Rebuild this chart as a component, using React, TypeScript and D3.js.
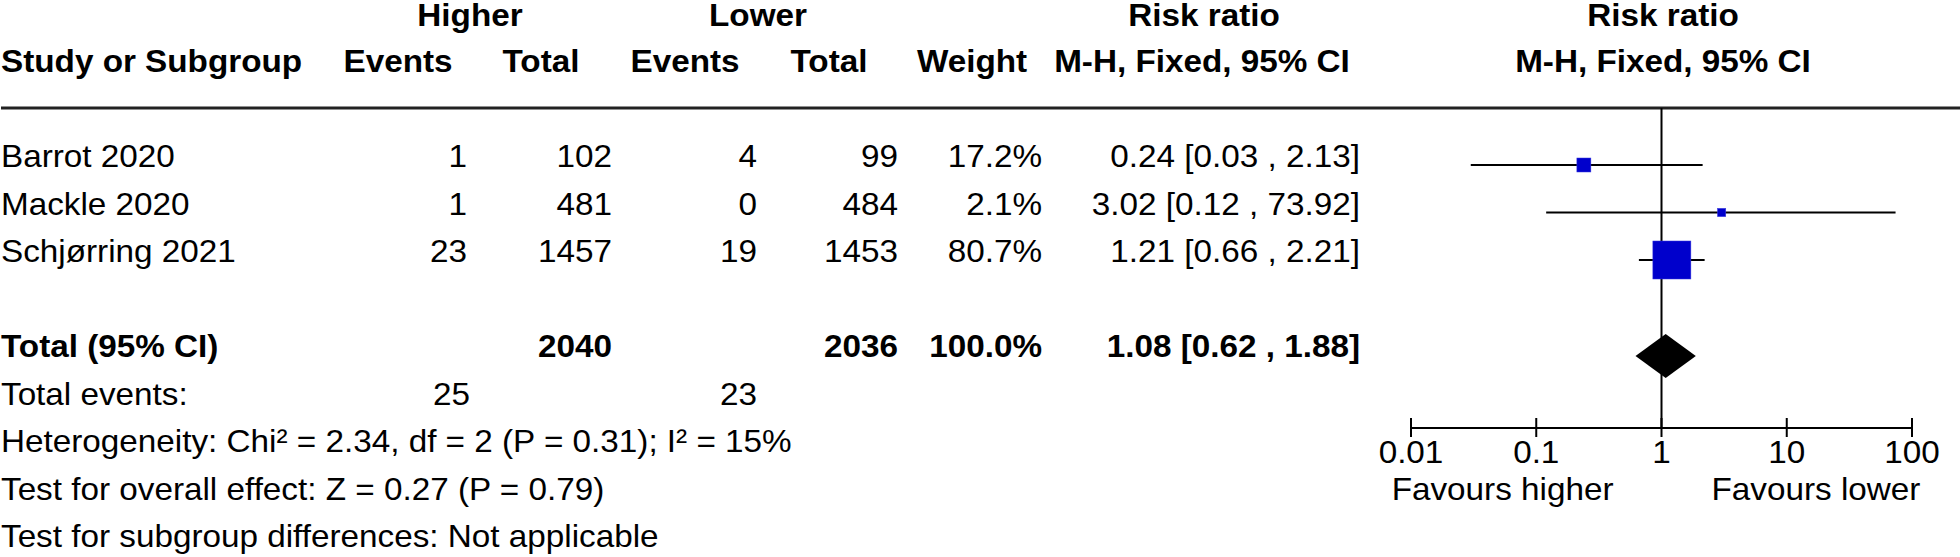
import React from "react";
import * as d3 from "d3";

const studies = ["Barrot 2020", "Mackle 2020", "Schjørring 2021"];
const higherEvents = [1, 1, 23];
const higherTotal = [102, 481, 1457];
const lowerEvents = [4, 0, 19];
const lowerTotal = [99, 484, 1453];
const weights = [17.2, 2.1, 80.7];
const riskRatio = [0.24, 3.02, 1.21];
const ciLow = [0.03, 0.12, 0.66];
const ciHigh = [2.13, 73.92, 2.21];

const totalHigher = 2040;
const totalLower = 2036;
const totalWeight = 100.0;
const totalRR = 1.08;
const totalLow = 0.62;
const totalHigh = 1.88;
const totalEventsHigher = 25;
const totalEventsLower = 23;

const axisTicks = [0.01, 0.1, 1, 10, 100];
const footnotes = [
  "Heterogeneity: Chi² = 2.34, df = 2 (P = 0.31); I² = 15%",
  "Test for overall effect: Z = 0.27 (P = 0.79)",
  "Test for subgroup differences: Not applicable",
];

const W = 1960;
const H = 557;
const FONT = "'Liberation Sans', Arial, Helvetica, sans-serif";
const FS = 32;
const SX = 1.04;

function T(props: {
  x: number;
  y: number;
  anchor?: "start" | "middle" | "end";
  bold?: boolean;
  children: React.ReactNode;
}) {
  const { x, y, anchor = "start", bold = false, children } = props;
  return (
    <text
      transform={`translate(${x},${y}) scale(${SX},1)`}
      x={0}
      y={0}
      textAnchor={anchor}
      fontFamily={FONT}
      fontSize={FS}
      fontWeight={bold ? "bold" : "normal"}
      fill="#000"
    >
      {children}
    </text>
  );
}

export default function App() {
  const x = d3.scaleLog().domain([0.01, 100]).range([1411, 1912]);
  const rowY = d3.scaleLinear().domain([0, 1]).range([167, 214.5]);
  const boxSize = d3.scaleLinear().domain([0, 100]).range([7.5, 45.3]);
  const fmt2 = d3.format(".2f");
  const fmtW = d3.format(".1f");
  const ciText = (r: number, l: number, h: number) =>
    `${fmt2(r)} [${fmt2(l)} , ${fmt2(h)}]`;

  const colHE = 467;
  const colHT = 612;
  const colLE = 757;
  const colLT = 898;
  const colW = 1042;
  const colCI = 1360;

  const axisY = 428;
  const sepY = 108;
  const totalY = rowY(4);
  const diamondY = totalY - 1;
  const dh = 22;
  const h1 = 26;
  const h2 = 72;

  return (
    <div style={{ position: "absolute", left: 0, top: 0 }}>
      <svg width={W} height={H} style={{ display: "block", background: "#fff" }}>
        <rect x={0} y={0} width={W} height={H} fill="#fff" />
        {/* header row 1 */}
        <T x={470} y={h1} anchor="middle" bold>Higher</T>
        <T x={758} y={h1} anchor="middle" bold>Lower</T>
        <T x={1204} y={h1} anchor="middle" bold>Risk ratio</T>
        <T x={1663} y={h1} anchor="middle" bold>Risk ratio</T>
        {/* header row 2 */}
        <T x={1} y={h2} bold>Study or Subgroup</T>
        <T x={398} y={h2} anchor="middle" bold>Events</T>
        <T x={541} y={h2} anchor="middle" bold>Total</T>
        <T x={685} y={h2} anchor="middle" bold>Events</T>
        <T x={829} y={h2} anchor="middle" bold>Total</T>
        <T x={972} y={h2} anchor="middle" bold>Weight</T>
        <T x={1202} y={h2} anchor="middle" bold>M-H, Fixed, 95% CI</T>
        <T x={1663} y={h2} anchor="middle" bold>M-H, Fixed, 95% CI</T>
        <line x1={1} x2={W} y1={sepY} y2={sepY} stroke="#222" strokeWidth={3} />

        {/* study rows */}
        {studies.map((s, i) => {
          const y = rowY(i);
          return (
            <g key={s}>
              <T x={1} y={y}>{s}</T>
              <T x={colHE} y={y} anchor="end">{higherEvents[i]}</T>
              <T x={colHT} y={y} anchor="end">{higherTotal[i]}</T>
              <T x={colLE} y={y} anchor="end">{lowerEvents[i]}</T>
              <T x={colLT} y={y} anchor="end">{lowerTotal[i]}</T>
              <T x={colW} y={y} anchor="end">{fmtW(weights[i])}%</T>
              <T x={colCI} y={y} anchor="end">
                {ciText(riskRatio[i], ciLow[i], ciHigh[i])}
              </T>
            </g>
          );
        })}

        {/* total row */}
        <T x={1} y={totalY} bold>Total (95% CI)</T>
        <T x={colHT} y={totalY} anchor="end" bold>{totalHigher}</T>
        <T x={colLT} y={totalY} anchor="end" bold>{totalLower}</T>
        <T x={colW} y={totalY} anchor="end" bold>{fmtW(totalWeight)}%</T>
        <T x={colCI} y={totalY} anchor="end" bold>
          {ciText(totalRR, totalLow, totalHigh)}
        </T>
        <T x={1} y={rowY(5)}>Total events:</T>
        <T x={colHE + 3} y={rowY(5)} anchor="end">{totalEventsHigher}</T>
        <T x={colLE} y={rowY(5)} anchor="end">{totalEventsLower}</T>
        {footnotes.map((f, i) => (
          <T key={f} x={1} y={rowY(6 + i)}>{f}</T>
        ))}

        {/* forest plot */}
        <line x1={x(1)} x2={x(1)} y1={sepY} y2={axisY} stroke="#000" strokeWidth={2} />
        {studies.map((s, i) => {
          const y = rowY(i) - 2;
          const sz = boxSize(weights[i]);
          return (
            <g key={"p" + s}>
              <line x1={x(ciLow[i])} x2={x(ciHigh[i])} y1={y} y2={y} stroke="#000" strokeWidth={2} />
              <rect
                x={x(riskRatio[i]) - sz / 2}
                y={y - sz / 2}
                width={sz}
                height={sz}
                fill="#0000cc"
                stroke="#3a3ae0"
                strokeWidth={0.5}
              />
            </g>
          );
        })}
        <path
          d={`M${x(totalLow)},${diamondY} L${x(totalRR)},${diamondY - dh} L${x(totalHigh)},${diamondY} L${x(totalRR)},${diamondY + dh} Z`}
          fill="#000"
        />

        {/* axis */}
        <line x1={x(0.01)} x2={x(100)} y1={axisY} y2={axisY} stroke="#000" strokeWidth={2} />
        {axisTicks.map((t) => (
          <g key={t}>
            <line x1={x(t)} x2={x(t)} y1={axisY - 10} y2={axisY + 9} stroke="#000" strokeWidth={2} />
            <T x={x(t)} y={463} anchor="middle">{String(t)}</T>
          </g>
        ))}
        <T x={x(1) - 48} y={500} anchor="end">Favours higher</T>
        <T x={x(1) + 50} y={500}>Favours lower</T>
      </svg>
    </div>
  );
}
